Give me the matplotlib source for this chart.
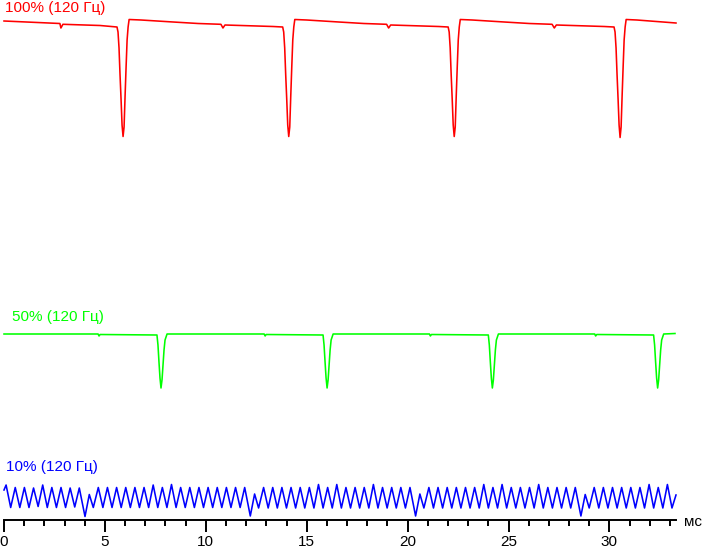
import matplotlib
matplotlib.use('Agg')
import matplotlib.pyplot as plt
import numpy as np
from matplotlib.ticker import MultipleLocator

plt.rcParams['font.family'] = ['Liberation Sans', 'DejaVu Sans']

# time in ms, brightness in arbitrary units (0 = bottom of each trace's dip)
red_t = [0.00, 2.77, 2.82, 2.92, 4.76,
         5.60, 5.65, 5.70, 5.75, 5.80, 5.85, 5.90, 5.95, 6.00, 6.05, 6.10, 6.15, 6.20,
         6.79, 8.38, 9.62, 10.75, 10.85, 10.95, 13.33,
         13.81, 13.86, 13.91, 13.96, 14.01, 14.06, 14.11, 14.16, 14.21, 14.26, 14.31, 14.36, 14.41,
         15.00, 16.59, 17.83, 18.96, 19.06, 19.16, 21.54,
         22.01, 22.06, 22.11, 22.16, 22.21, 22.26, 22.31, 22.36, 22.41, 22.46, 22.51, 22.56, 22.61,
         23.20, 24.79, 26.03, 27.16, 27.27, 27.37, 29.74,
         30.23, 30.28, 30.33, 30.38, 30.43, 30.48, 30.53, 30.58, 30.63, 30.68, 30.73, 30.78, 30.83,
         31.36, 32.85, 33.30]
red_v = [115.5, 113, 108.5, 112.2, 111,
         109.5, 104.5, 88.5, 61.5, 37.5, 11.5, 0, 9.5, 40.5, 69.5, 96.5, 109.5, 117,
         116.5, 114.5, 113, 112.2, 108.5, 111.5, 110,
         109.5, 104.5, 88.5, 61.5, 37.5, 11.5, 0, 9.5, 40.5, 69.5, 96.5, 109.5, 117,
         116.5, 114.5, 113, 112.2, 108.5, 111.5, 110,
         109.5, 104.5, 88.5, 61.5, 37.5, 11.5, 0, 9.5, 40.5, 69.5, 96.5, 109.5, 117,
         116.5, 114.5, 113, 112.2, 108.5, 111.5, 110,
         109.5, 104.5, 88.5, 61.5, 37.5, 11.5, -1, 9.5, 40.5, 69.5, 96.5, 109.5, 117,
         116.5, 114.2, 113.5]

green_t = [0.00, 4.66, 4.71, 4.76, 7.58,
           7.63, 7.68, 7.73, 7.78, 7.83, 7.88, 7.93, 7.98, 8.08,
           12.89, 12.94, 12.99, 15.81,
           15.86, 15.91, 15.96, 16.01, 16.06, 16.11, 16.16, 16.21, 16.31,
           21.08, 21.13, 21.18, 24.00,
           24.05, 24.10, 24.15, 24.20, 24.25, 24.30, 24.35, 24.40, 24.50,
           29.27, 29.32, 29.37, 32.19,
           32.24, 32.29, 32.34, 32.39, 32.44, 32.49, 32.54, 32.59, 32.69,
           33.25]
green_v = [54, 54, 52, 53.5, 53,
           43, 26, 10, 0, 8, 23, 38, 48, 54,
           54, 52, 53.5, 53,
           43, 26, 10, 0, 8, 23, 38, 48, 54,
           54, 52, 53.5, 53,
           43, 26, 10, 0, 8, 23, 38, 48, 54,
           54, 52, 53.5, 53,
           43, 26, 10, 0, 8, 23, 38, 48, 54,
           54.5]

blue_t = [0.000, 0.104, 0.331, 0.557, 0.784, 1.011, 1.238, 1.464, 1.691, 1.918, 2.145,
          2.371, 2.598, 2.825, 3.051, 3.278, 3.505, 3.731,
          4.014, 4.227, 4.425,
          4.673, 4.900, 5.126, 5.353, 5.580, 5.807, 6.033, 6.260, 6.487, 6.713, 6.940, 7.167,
          7.393, 7.620, 7.847, 8.074, 8.300, 8.527, 8.754, 8.980, 9.207, 9.434, 9.660, 9.887,
          10.114, 10.341, 10.567, 10.794, 11.021, 11.247, 11.474, 11.701, 11.927,
          12.205, 12.418, 12.616,
          12.864, 13.091, 13.317, 13.544, 13.771, 13.998, 14.224, 14.451, 14.678, 14.904,
          15.131, 15.358, 15.584, 15.811, 16.038, 16.265, 16.491, 16.718, 16.945, 17.171,
          17.398, 17.625, 17.851, 18.078, 18.305, 18.532, 18.758, 18.985, 19.212, 19.438,
          19.665, 19.892, 20.118,
          20.396, 20.609, 20.807,
          21.055, 21.282, 21.508, 21.735, 21.962, 22.189, 22.415, 22.642, 22.869, 23.095,
          23.322, 23.549, 23.775, 24.002, 24.229, 24.456, 24.682, 24.909, 25.136, 25.362,
          25.589, 25.816, 26.042, 26.269, 26.496, 26.723, 26.949, 27.176, 27.403, 27.629,
          27.856, 28.083, 28.309,
          28.588, 28.801, 28.999,
          29.247, 29.474, 29.700, 29.927, 30.154, 30.381, 30.607, 30.834, 31.061, 31.287,
          31.514, 31.741, 31.967, 32.194, 32.421, 32.648, 32.874, 33.101, 33.300]
blue_v = [26.5, 31.5, 9, 29, 9, 29, 9, 28.5, 10, 31.5, 9,
          29, 9, 29, 9, 28.5, 9.5, 28.5,
          0, 22, 9,
          29, 9, 29, 9, 29, 9, 29, 9, 29, 9, 29, 9,
          31.5, 9, 29, 9, 32, 9, 29, 9, 29, 9, 29, 9,
          29, 9, 29, 9, 29, 9, 29, 9, 29,
          0.5, 22.5, 8.5,
          29, 8.5, 29, 8.5, 29, 8.5, 29, 8.5, 29, 8.5,
          29, 8.5, 32, 8.5, 29, 8.5, 32, 8.5, 29, 8.5,
          29, 8.5, 29, 8.5, 32, 8.5, 29, 8.5, 29, 8.5,
          29, 8.5, 29,
          0.5, 22.5, 8.5,
          29, 8.5, 29, 8.5, 29, 8.5, 29, 8.5, 29, 8.5,
          29, 8.5, 32, 8.5, 29, 8.5, 32, 8.5, 29, 8.5,
          29, 8.5, 29, 8.5, 32, 8.5, 29, 8.5, 29, 8.5,
          29, 8.5, 29,
          0.5, 22, 8.5,
          29, 8.5, 29, 8.5, 29, 8.5, 29, 8.5, 29, 8.5,
          29, 8.5, 32, 8.5, 29, 8.5, 32, 8.5, 21.5]

labels = ['100% (120 Гц)', '50% (120 Гц)', '10% (120 Гц)']
colors = ['#ff0000', '#00ff00', '#0000ff']

W, H = 703, 549
fig = plt.figure(figsize=(W / 100, H / 100), dpi=100)
ax = fig.add_axes([4 / W, 29 / H, 672 / W, 520 / H])

# vertical placement of each trace
red_base, green_base, blue_base = 383.5, 132, 3.5

lw = 1.15
ax.plot(red_t, np.array(red_v) + red_base, color=colors[0], lw=lw, clip_on=False)
ax.plot(green_t, np.array(green_v) + green_base, color=colors[1], lw=lw, clip_on=False)
ax.plot(blue_t, np.array(blue_v) + blue_base, color=colors[2], lw=lw, clip_on=False)

ax.set_xlim(0, 672 / 20.18)
ax.set_ylim(0, 520)

for s in ['top', 'left', 'right']:
    ax.spines[s].set_visible(False)
ax.spines['bottom'].set_linewidth(1.4)
ax.set_yticks([])
ax.xaxis.set_major_locator(MultipleLocator(5))
ax.xaxis.set_minor_locator(MultipleLocator(1))
ax.tick_params(axis='x', which='major', length=8.6, width=1.4, pad=2.0, labelsize=11)
ax.tick_params(axis='x', which='minor', length=4.3, width=1.4)

# labels of the traces
fs = 11
fig.text(5 / W, 1 - 12.3 / H, labels[0], color=colors[0], fontsize=fs, va='baseline')
fig.text(12 / W, 1 - 320.7 / H, labels[1], color=colors[1], fontsize=fs, va='baseline')
fig.text(6 / W, 1 - 470.7 / H, labels[2], color=colors[2], fontsize=fs, va='baseline')
fig.text(684 / W, 1 - 522 / H, 'мс', fontsize=fs, va='center')

fig.savefig('out.png', dpi=100)
